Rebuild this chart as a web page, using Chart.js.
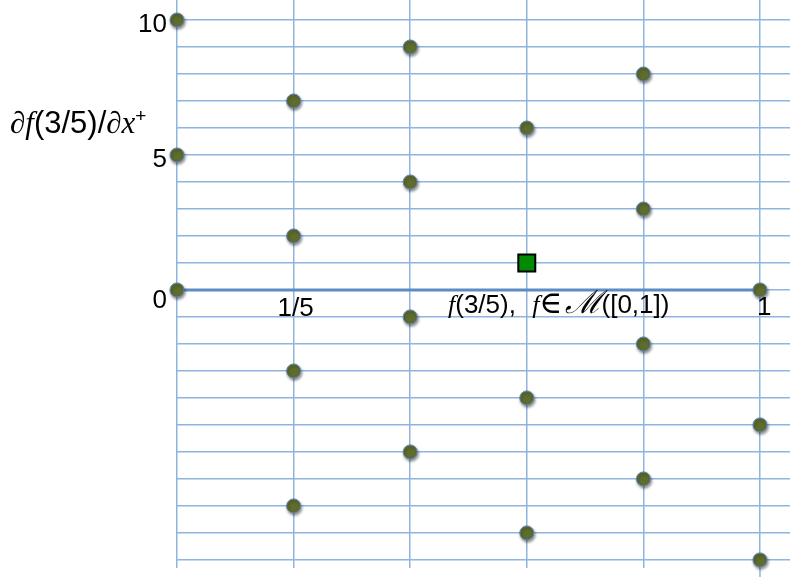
<!DOCTYPE html>
<html><head><meta charset="utf-8">
<script src="https://cdn.jsdelivr.net/npm/chart.js@4"></script>
<style>html,body{margin:0;padding:0;background:#fff;overflow:hidden}</style>
</head><body>
<canvas id="c" width="790" height="577"></canvas>
<script>
// ---- data ----
const xPositions = [0, 0.2, 0.4, 0.6, 0.8, 1];
const valuesAtX0   = [10, 5, 0];
const valuesAtX02  = [7, 2, -3, -8];
const valuesAtX04  = [9, 4, -1, -6];
const valuesAtX06  = [6, -4, -9];
const valuesAtX08  = [8, 3, -2, -7];
const valuesAtX1   = [0, -5, -10];
const markedPoint  = [0.6, 1];
const yTickValues  = [10, 5, 0];
const yTickLabels  = ['10', '5', '0'];
const xTickValues  = [0.2, 1];
const xTickLabels  = ['1/5', '1'];
const yGridValues  = [-10,-9,-8,-7,-6,-5,-4,-3,-2,-1,0,1,2,3,4,5,6,7,8,9,10];

const columns = [valuesAtX0, valuesAtX02, valuesAtX04, valuesAtX06, valuesAtX08, valuesAtX1];
const dots = [];
columns.forEach((col, i) => col.forEach(v => dots.push({x: xPositions[i], y: v})));

const SANS = '"Liberation Sans", Arial, sans-serif';
const SERIF = '"Liberation Serif", "DejaVu Serif", serif';
const GRID = '#8fb4de';

function drawRuns(ctx, x, y, runs) {
  ctx.textAlign = 'left';
  ctx.textBaseline = 'alphabetic';
  runs.forEach(r => {
    ctx.font = r.font;
    x += (r.pre || 0);
    ctx.fillText(r.t, x, y + (r.dy || 0));
    x += ctx.measureText(r.t).width + (r.post || 0);
  });
}

const decor = {
  id: 'decor',
  beforeDatasetsDraw(chart) {
    const {ctx, scales: {x, y}} = chart;
    ctx.save();
    ctx.strokeStyle = GRID;
    ctx.lineWidth = 1.5;
    ctx.beginPath();
    ctx.moveTo(x.getPixelForValue(1), chart.chartArea.bottom);
    ctx.lineTo(x.getPixelForValue(1), 577);
    ctx.stroke();
    ctx.strokeStyle = '#5b8cc6';
    ctx.lineWidth = 3;
    ctx.beginPath();
    ctx.moveTo(x.getPixelForValue(0), y.getPixelForValue(0));
    ctx.lineTo(x.getPixelForValue(1), y.getPixelForValue(0));
    ctx.stroke();
    ctx.restore();
  },
  beforeDatasetDraw(chart, args) {
    const ctx = chart.ctx;
    ctx.save();
    if (args.index === 0) {
      ctx.shadowColor = 'rgba(0,0,0,0.45)';
      ctx.shadowBlur = 3;
      ctx.shadowOffsetX = 1;
      ctx.shadowOffsetY = 2;
    }
  },
  afterDatasetDraw(chart) { chart.ctx.restore(); },
  afterDraw(chart) {
    const {ctx, scales: {x, y}} = chart;
    ctx.save();
    ctx.fillStyle = '#000';
    ctx.font = '26px ' + SANS;
    ctx.textAlign = 'right';
    ctx.textBaseline = 'alphabetic';
    yTickValues.forEach((v, i) => {
      const py = y.getPixelForValue(v) + (v === 0 ? 18 : 12);
      ctx.fillText(yTickLabels[i], 167, py);
    });
    const y0 = y.getPixelForValue(0);
    ctx.textAlign = 'center';
    ctx.fillText(xTickLabels[0], x.getPixelForValue(xTickValues[0]) + 2, y0 + 26);
    ctx.textAlign = 'left';
    ctx.fillText(xTickLabels[1], x.getPixelForValue(xTickValues[1]) - 3, y0 + 25);
    drawRuns(ctx, 10, 133, [
      {t: '\u2202f', font: 'italic 31px ' + SERIF},
      {t: '(3/5)/', font: '31px ' + SANS},
      {t: '\u2202x', font: 'italic 31px ' + SERIF},
      {t: '+', font: '19px ' + SANS, dy: -11}
    ]);
    drawRuns(ctx, 448, y0 + 23, [
      {t: 'f', font: 'italic 26px ' + SERIF},
      {t: '(3/5),  ', font: '26px ' + SANS, post: 2},
      {t: 'f', font: 'italic 26px ' + SERIF},
      {t: '\u2208', font: '31px ' + SERIF, post: 2},
      {t: '\u2133', font: 'italic 32px "DejaVu Serif", serif'},
      {t: '([0,1])', font: '26px ' + SANS}
    ]);
    ctx.restore();
  }
};

new Chart(document.getElementById('c'), {
  type: 'scatter',
  data: {
    datasets: [
      {
        data: dots,
        pointStyle: 'circle',
        pointRadius: 7,
        pointHoverRadius: 7,
        backgroundColor: '#5e6d2e',
        borderColor: '#5b84b8',
        borderWidth: 1,
        clip: false
      },
      {
        data: [{x: markedPoint[0], y: markedPoint[1]}],
        pointStyle: 'rect',
        pointRadius: 12,
        pointHoverRadius: 12,
        backgroundColor: '#038a03',
        borderColor: '#000000',
        borderWidth: 2,
        clip: false
      }
    ]
  },
  options: {
    responsive: false,
    animation: false,
    events: [],
    layout: {padding: 0, autoPadding: false},
    plugins: {legend: {display: false}, tooltip: {enabled: false}},
    scales: {
      x: {
        type: 'linear',
        min: 0,
        max: 1.0515,
        afterBuildTicks: s => { s.ticks = xPositions.map(v => ({value: v})); },
        afterFit: s => { s.height = 9; },
        ticks: {display: false},
        border: {display: false},
        grid: {color: GRID, lineWidth: 1.5, drawTicks: false}
      },
      y: {
        type: 'linear',
        min: -10.3,
        max: 10.74,
        afterBuildTicks: s => { s.ticks = yGridValues.map(v => ({value: v})); },
        afterFit: s => { s.width = 177; },
        ticks: {display: false},
        border: {display: false},
        grid: {color: GRID, lineWidth: 1.5, drawTicks: false}
      }
    }
  },
  plugins: [decor]
});
</script>
</body></html>
